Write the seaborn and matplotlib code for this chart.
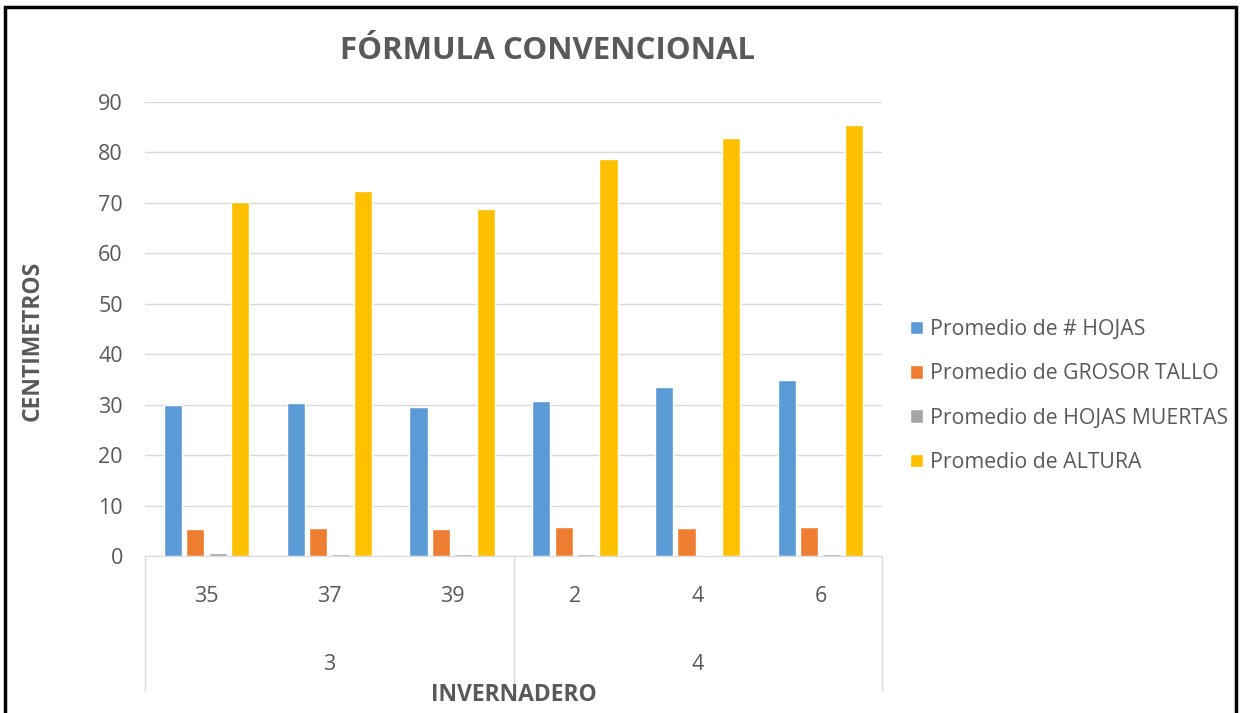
import pandas as pd
import matplotlib
matplotlib.use('Agg')
import matplotlib.pyplot as plt
import seaborn as sns
from matplotlib.patches import Rectangle
from matplotlib.transforms import blended_transform_factory

# data
invernadero = ['3', '3', '3', '4', '4', '4']
cama = ['35', '37', '39', '2', '4', '6']
hojas = [29.9, 30.4, 29.5, 30.7, 33.6, 34.9]
grosor_tallo = [5.3, 5.6, 5.4, 5.75, 5.55, 5.7]
hojas_muertas = [0.5, 0.3, 0.3, 0.3, 0.2, 0.3]
altura = [70.2, 72.4, 68.8, 78.7, 82.9, 85.5]
series = ['Promedio de # HOJAS', 'Promedio de GROSOR TALLO',
          'Promedio de HOJAS MUERTAS', 'Promedio de ALTURA']
colores = ['#5b9bd5', '#ed7d31', '#a5a5a5', '#ffc000']

grupos = [f'{i}-{c}' for i, c in zip(invernadero, cama)]
rows = []
for nombre, valores in zip(series, [hojas, grosor_tallo, hojas_muertas, altura]):
    for g, v in zip(grupos, valores):
        rows.append({'grupo': g, 'serie': nombre, 'valor': v})
data = pd.DataFrame(rows)

sns.set_style('white')
plt.rcParams['font.family'] = ['Open Sans', 'DejaVu Sans']
gris = '#595959'

W, H = 1241, 713
fig = plt.figure(figsize=(W / 100, H / 100), dpi=100)
ax = fig.add_axes([145 / W, 1 - 556 / H, (882 - 145) / W, (556 - 102) / H])

sns.barplot(data=data, x='grupo', y='valor', hue='serie', order=grupos,
            hue_order=series, palette=colores, saturation=1,
            width=0.73, gap=0.19, ax=ax)

handles, labels = ax.get_legend_handles_labels()
ax.get_legend().remove()

ax.set_xlim(-0.5, len(grupos) - 0.5)
ax.set_ylim(0, 90)
ax.set_yticks(range(0, 91, 10))
ax.yaxis.grid(True, color='#d9d9d9', lw=1)
ax.set_axisbelow(True)
for s in ['top', 'right', 'left']:
    ax.spines[s].set_visible(False)
ax.spines['bottom'].set_color('#d9d9d9')
ax.tick_params(axis='y', length=0, pad=16, labelsize=15.5, labelcolor=gris)
ax.set_xticks([])
ax.set_xlabel('')
ax.set_ylabel('')

# two level category axis
tr = blended_transform_factory(ax.transData, ax.transAxes)
for i, c in enumerate(cama):
    ax.text(i, -0.09, c, transform=tr, ha='center', va='center',
            fontsize=15.5, color=gris)
for k, inv in enumerate(['3', '4']):
    ax.text(k * 3 + 1, -0.24, inv, transform=tr, ha='center', va='center',
            fontsize=15.5, color=gris)
for x in [-0.5, 2.5, 5.5]:
    ax.plot([x, x], [0, -0.295], transform=tr, color='#d9d9d9', lw=1,
            clip_on=False)

fig.text(548 / W, 1 - 51 / H, 'FÓRMULA CONVENCIONAL', ha='center',
         va='center', fontsize=22.5, fontweight='bold', color=gris)
fig.text(33 / W, 1 - 341 / H, 'CENTIMETROS', rotation=90, ha='center',
         va='center', fontsize=16.5, fontweight='bold', color=gris)
fig.text(514 / W, 1 - 695 / H, 'INVERNADERO', ha='center', va='center',
         fontsize=16.5, fontweight='bold', color=gris)

fig.legend(handles, labels, loc='center left',
           bbox_to_anchor=(910 / W, 1 - 396 / H), frameon=False,
           fontsize=15.3, labelcolor=gris, handlelength=0.6, handleheight=0.6,
           handletextpad=0.35, labelspacing=1.1, borderpad=0,
           borderaxespad=0)

fig.patches.append(Rectangle((5 / W, -0.01), (1236 - 5) / W, 1.01 - 7 / H,
                             transform=fig.transFigure, fill=False,
                             ec='black', lw=2.5))

fig.savefig('out.png', dpi=100, facecolor='white')
